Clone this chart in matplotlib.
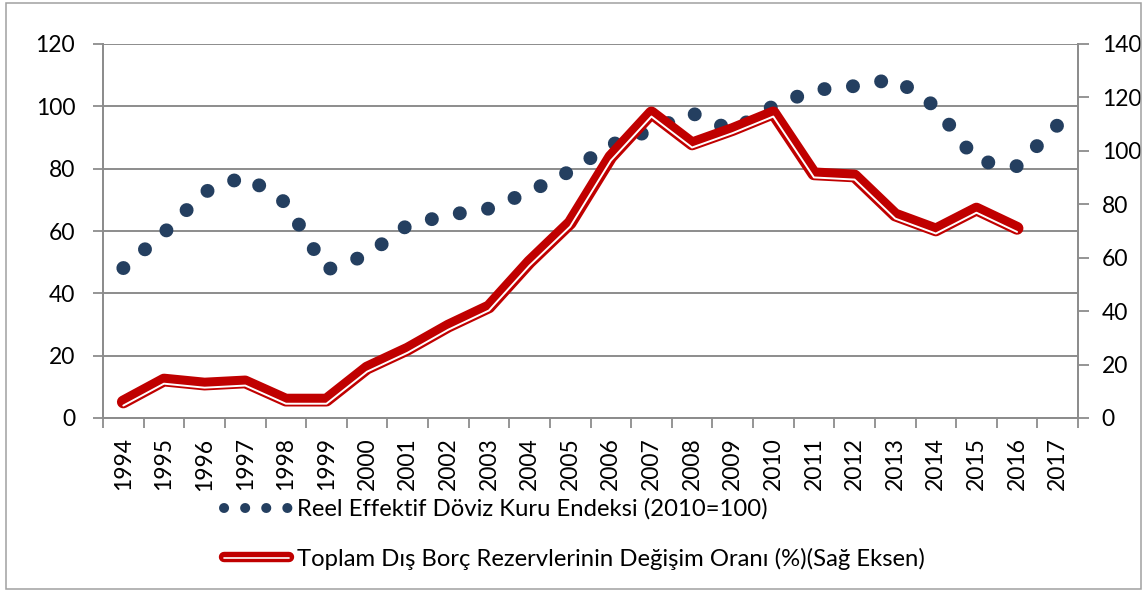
import matplotlib
matplotlib.use("Agg")
import matplotlib.pyplot as plt
import matplotlib.patheffects as pe
from matplotlib.lines import Line2D
from matplotlib.patches import Rectangle
import numpy as np

years = [str(y) for y in range(1994, 2018)]
reer = [48.1, 59.4, 72.5, 77.6, 69.0, 47.5, 52.3, 61.9, 65.1, 67.2, 72.6, 79.2,
        87.6, 92.4, 97.8, 92.2, 100.1, 105.2, 106.5, 108.8, 99.8, 82.5, 80.8, 94.0]
debt = [6.0, 14.2, 12.7, 13.5, 6.7, 6.7, 18.7, 25.8, 34.4, 41.6, 58.4, 73.0,
        97.7, 114.2, 102.6, 108.0, 114.2, 91.4, 90.6, 76.0, 70.4, 78.2, 71.0]
label_reer = "Reel Effektif Döviz Kuru Endeksi (2010=100)"
label_debt = "Toplam Dış Borç Rezervlerinin Değişim Oranı (%)(Sağ Eksen)"

NAVY = "#243F60"
RED = "#C00000"
GRID = "#8C8C8C"
FONT = ["Lato", "DejaVu Sans"]
FS = 16.5
FSL = 17.2

plt.rcParams["font.family"] = FONT

W, H = 1144, 591
fig = plt.figure(figsize=(W / 100, H / 100), dpi=100)
fig.patches.append(Rectangle((6 / W, 2 / H), (1141 - 6) / W, (588 - 2) / H,
                             transform=fig.transFigure, fill=False,
                             edgecolor="#A0A0A0", linewidth=1.1))

ax = fig.add_axes([103 / W, (H - 418) / H, 975 / W, 374 / H])
ax2 = ax.twinx()

x = np.arange(len(years))
xd = np.arange(len(debt))

ax.plot(x, reer, color=NAVY, linewidth=10, linestyle=(0, (0.01, 2.05)),
        dash_capstyle="round", zorder=3)

ax2.plot(xd, debt, color=RED, linewidth=9.2, solid_capstyle="round",
         solid_joinstyle="round", zorder=3,
         path_effects=[pe.Normal(),
                       pe.Stroke(linewidth=1.4, foreground="white", offset=(0, -2.6))])

ax.set_xlim(-0.5, len(years) - 0.5)
ax.set_ylim(0, 120)
ax2.set_ylim(0, 140)
ax.set_yticks(np.arange(0, 121, 20))
ax2.set_yticks(np.arange(0, 141, 20))

ax.set_xticks(x)
ax.set_xticklabels(years, rotation=90, fontsize=FS)
ax.set_xticks(np.arange(-0.5, len(years), 1), minor=True)
ax.tick_params(axis="x", which="major", length=0, pad=14)
ax.tick_params(axis="x", which="minor", length=7, width=1.3, color=GRID)
ax.tick_params(axis="y", length=7, width=1.3, color=GRID, pad=13, labelsize=FS)
ax2.tick_params(axis="y", length=8, width=1.3, color=GRID, pad=9, labelsize=FS)

ax.grid(axis="y", color=GRID, linewidth=1.4)
ax.set_axisbelow(True)
for a in (ax, ax2):
    a.spines["top"].set_visible(False)
    for s in ("left", "right", "bottom"):
        a.spines[s].set_color(GRID)
        a.spines[s].set_linewidth(1.3)

h1 = Line2D([], [], color=NAVY, linewidth=7.2, linestyle=(0, (0.01, 2.1)),
            dash_capstyle="round")
h2 = Line2D([], [], color=RED, linewidth=7.5, solid_capstyle="round",
            path_effects=[pe.Normal(),
                          pe.Stroke(linewidth=1.2, foreground="white", offset=(0, -0.8))])
fig.legend([h1, h2], [label_reer, label_debt], loc="upper left",
           bbox_to_anchor=(214 / W, 1 - 489 / H), frameon=False,
           fontsize=FSL, handlelength=2.75, handletextpad=0.33, labelspacing=1.15,
           borderaxespad=0)

fig.savefig("out.png", dpi=100)
